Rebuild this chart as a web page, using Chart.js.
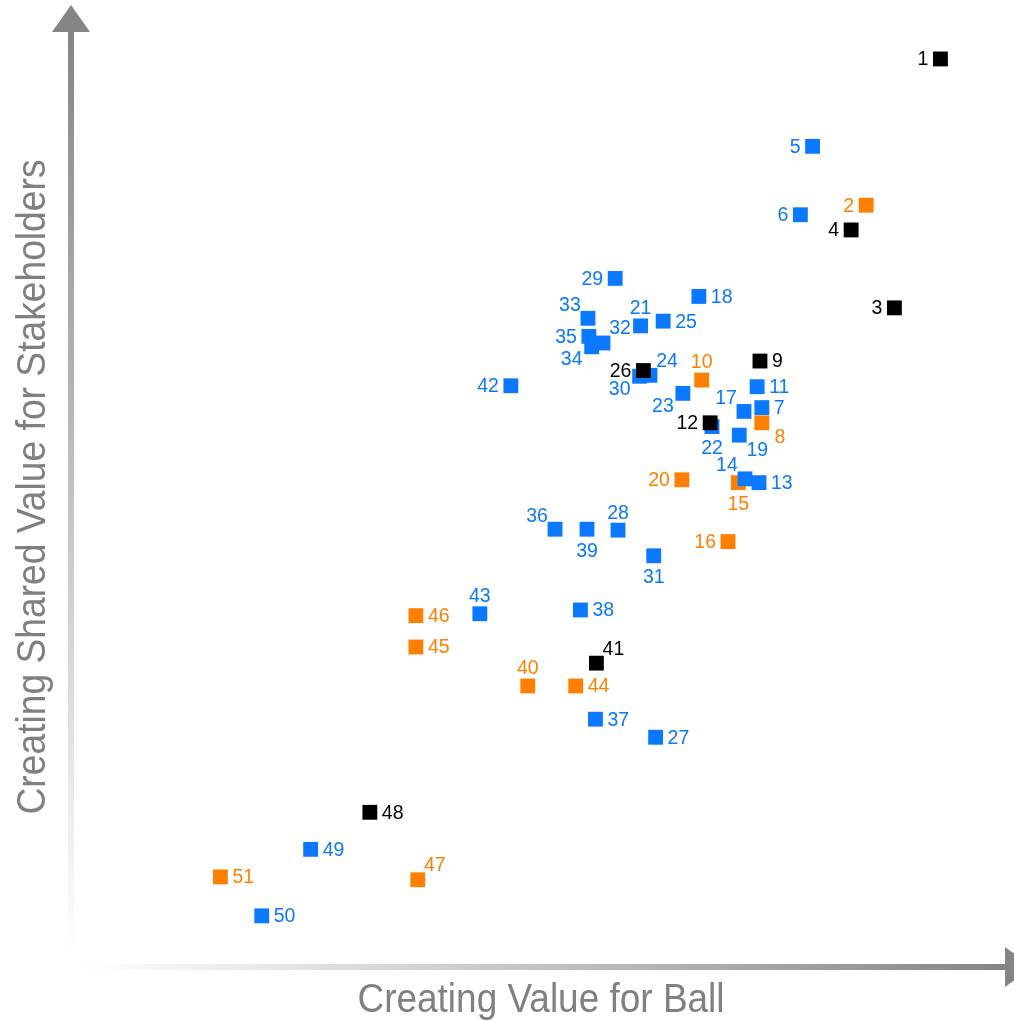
<!DOCTYPE html>
<html>
<head>
<meta charset="utf-8">
<script src="https://cdn.jsdelivr.net/npm/chart.js@4.4.1/dist/chart.umd.min.js"></script>
<style>
  body { margin: 0; background: #fff; }
  #wrap { width: 1014px; height: 1021px; }
</style>
</head>
<body>
<div id="wrap"><canvas id="matrix" width="1014" height="1021"></canvas></div>
<script>
// point numbers per colour group, with x (value for Ball) and y (shared value) on a 0-100 scale
const blackIds = [1, 3, 4, 9, 12, 26, 41, 48]
const blackX = [92.6, 87.7, 83.1, 73.4, 68.1, 61.0, 56.0, 31.9]
const blackY = [95.9, 69.7, 77.9, 64.1, 57.6, 63.1, 32.3, 16.6]

const blueIds = [5, 6, 7, 11, 13, 14, 17, 18, 19, 21, 22, 23, 24, 25, 27, 28, 29, 30, 31, 32, 33, 34, 35, 36, 37, 38, 39, 42, 43, 49, 50]
const blueX = [79.0, 77.7, 73.6, 73.1, 73.3, 71.8, 71.7, 66.9, 71.2, 60.7, 68.3, 65.2, 61.7, 63.1, 62.3, 58.3, 58.0, 60.6, 62.1, 56.7, 55.1, 55.5, 55.2, 51.6, 55.9, 54.3, 55.0, 46.9, 43.6, 25.6, 20.4]
const blueY = [86.7, 79.5, 59.2, 61.4, 51.3, 51.7, 58.8, 70.9, 56.3, 67.8, 57.2, 60.7, 62.6, 68.3, 24.5, 46.3, 72.8, 62.5, 43.6, 66.0, 68.6, 65.6, 66.7, 46.4, 26.4, 37.9, 46.4, 61.5, 37.5, 12.7, 5.7]

const orangeIds = [2, 8, 10, 15, 16, 20, 40, 44, 45, 46, 47, 51]
const orangeX = [84.7, 73.6, 67.2, 71.1, 70.0, 65.1, 48.7, 53.8, 36.8, 36.8, 37.0, 16.0]
const orangeY = [80.5, 57.6, 62.1, 51.3, 45.1, 51.6, 29.9, 29.9, 34.0, 37.3, 9.5, 9.8]

const xTitle = 'Creating Value for Ball'
const yTitle = 'Creating Shared Value for Stakeholders'

// where each number label sits relative to its square
const labelSide = {
  1: 'l', 2: 'l', 3: 'l', 4: 'l', 5: 'l', 6: 'l', 7: 'r', 8: 'br', 9: 'r', 10: 't',
  11: 'r', 12: 'l', 13: 'r', 14: 'tl', 15: 'b', 16: 'l', 17: 'tl', 18: 'r', 19: 'br', 20: 'l',
  21: 't', 22: 'b', 23: 'bl', 24: 'tr', 25: 'r', 26: 'l', 27: 'r', 28: 't', 29: 'l', 30: 'bl',
  31: 'b', 32: 'tr', 33: 'tl', 34: 'bl', 35: 'l', 36: 'tl', 37: 'r', 38: 'r', 39: 'b', 40: 't',
  41: 'tr', 42: 'l', 43: 't', 44: 'r', 45: 'r', 46: 'r', 47: 'tr', 48: 'r', 49: 'r', 50: 'r', 51: 'r'
}

const BLUE = '#0A78FF'
const ORANGE = '#FF8000'
const BLACK = '#000000'
const GREY = '#858585'

function pts(xs, ys, ids) {
  return xs.map((x, i) => ({ x: x, y: ys[i], id: ids[i] }))
}

function group(name, xs, ys, ids, color) {
  return {
    label: name,
    data: pts(xs, ys, ids),
    pointStyle: 'rect',
    pointRadius: 10.5,
    pointHoverRadius: 10.5,
    borderWidth: 0,
    backgroundColor: color,
    borderColor: color
  }
}

const arrowsPlugin = {
  id: 'arrows',
  beforeDraw(chart) {
    const ctx = chart.ctx
    const ax = 71      // vertical axis line
    const ay = 967     // horizontal axis line
    ctx.save()
    // vertical shaft, fading downwards
    let g = ctx.createLinearGradient(0, 32, 0, 955)
    g.addColorStop(0, GREY)
    g.addColorStop(1, 'rgba(255,255,255,1)')
    ctx.fillStyle = g
    ctx.fillRect(ax - 3, 30, 6, 925)
    ctx.fillStyle = GREY
    ctx.beginPath()
    ctx.moveTo(ax, 5)
    ctx.lineTo(ax + 19, 32)
    ctx.lineTo(ax - 19, 32)
    ctx.closePath()
    ctx.fill()
    // horizontal shaft, fading leftwards
    g = ctx.createLinearGradient(80, 0, 1006, 0)
    g.addColorStop(0, 'rgba(255,255,255,1)')
    g.addColorStop(1, GREY)
    ctx.fillStyle = g
    ctx.fillRect(80, ay - 3, 927, 6)
    ctx.fillStyle = GREY
    ctx.beginPath()
    ctx.moveTo(1033, ay)
    ctx.lineTo(1005, ay - 20)
    ctx.lineTo(1005, ay + 20)
    ctx.closePath()
    ctx.fill()

    // axis titles, drawn narrow
    ctx.fillStyle = '#808080'
    ctx.font = '40px "Liberation Sans", Arial, sans-serif'
    ctx.textAlign = 'center'
    ctx.textBaseline = 'middle'
    let w = ctx.measureText(xTitle).width
    ctx.save()
    ctx.translate(541, 1001)
    ctx.scale(367 / w, 1)
    ctx.fillText(xTitle, 0, 0)
    ctx.restore()
    w = ctx.measureText(yTitle).width
    ctx.save()
    ctx.translate(34, 487)
    ctx.rotate(-Math.PI / 2)
    ctx.scale(655 / w, 1)
    ctx.fillText(yTitle, 0, 0)
    ctx.restore()
    ctx.restore()
  }
}

const labelsPlugin = {
  id: 'numberLabels',
  afterDatasetsDraw(chart) {
    const ctx = chart.ctx
    ctx.save()
    ctx.font = '19.5px "Liberation Sans", Arial, sans-serif'
    ctx.textBaseline = 'middle'
    chart.data.datasets.forEach((ds, di) => {
      const meta = chart.getDatasetMeta(di)
      meta.data.forEach((el, i) => {
        const id = ds.data[i].id
        const side = labelSide[id] || 'r'
        let x = el.x, y = el.y + 1, align = 'center'
        if (side === 'l') { x -= 12; align = 'right' }
        else if (side === 'r') { x += 12; align = 'left' }
        else if (side === 't') { y -= 18 }
        else if (side === 'b') { y += 21 }
        else if (side === 'tl') { x -= 18; y -= 14 }
        else if (side === 'tr') { x += 17; y -= 15 }
        else if (side === 'bl') { x -= 20; y += 12 }
        else if (side === 'br') { x += 18; y += 14 }
        ctx.textAlign = align
        ctx.fillStyle = ds.backgroundColor
        ctx.fillText(String(id), x, y)
      })
    })
    ctx.restore()
  }
}

new Chart('matrix', {
  type: 'scatter',
  data: {
    datasets: [
      group('black', blackX, blackY, blackIds, BLACK),
      group('blue', blueX, blueY, blueIds, BLUE),
      group('orange', orangeX, orangeY, orangeIds, ORANGE)
    ]
  },
  options: {
    responsive: false,
    animation: false,
    events: [],
    layout: { autoPadding: false, padding: { left: 70, right: 4, top: 20, bottom: 51 } },
    scales: {
      x: { type: 'linear', min: 0, max: 100, display: false },
      y: { type: 'linear', min: 0, max: 100, display: false }
    },
    plugins: {
      legend: { display: false },
      tooltip: { enabled: false }
    }
  },
  plugins: [arrowsPlugin, labelsPlugin]
})
</script>
</body>
</html>
